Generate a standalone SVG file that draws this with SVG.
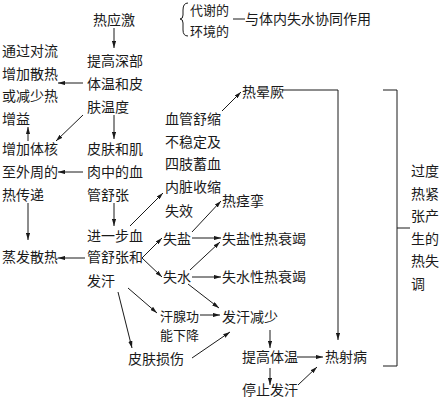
<svg xmlns="http://www.w3.org/2000/svg" width="439" height="400" viewBox="0 0 439 400">
<defs>
<marker id="ah" viewBox="0 0 10 6" refX="10" refY="3" markerWidth="7" markerHeight="4.2" markerUnits="userSpaceOnUse" orient="auto">
<path d="M0,0 L10,3 L0,6 z" fill="#1a1a1a"/>
</marker>
<style>
text{font-family:"Noto Sans CJK SC","Noto Sans CJK JP",sans-serif;font-size:14px;fill:#1a1a1a}
.s{font-size:13px}
.c line,.c path,.c polyline{stroke:#1a1a1a;stroke-width:1;fill:none}
.a{marker-end:url(#ah)}
</style>
</defs>
<rect width="439" height="400" fill="#fff"/>
<g class="c" id="connectors">
<line class="a" x1="114" y1="28" x2="114" y2="48"/>
<line class="a" x1="83" y1="83" x2="58" y2="83"/>
<line class="a" x1="83" y1="115" x2="56" y2="141"/>
<line class="a" x1="114" y1="115" x2="114" y2="139"/>
<line class="a" x1="28" y1="141" x2="28" y2="127"/>
<line class="a" x1="83" y1="172" x2="58" y2="172"/>
<line class="a" x1="28" y1="203" x2="28" y2="240"/>
<line class="a" x1="114" y1="203" x2="114" y2="226"/>
<line class="a" x1="85" y1="258" x2="58" y2="258"/>
<line class="a" x1="130" y1="226" x2="163" y2="193"/>
<line class="a" x1="222" y1="111" x2="241" y2="92"/>
<line class="a" x1="142" y1="258" x2="162" y2="238"/>
<line class="a" x1="142" y1="258" x2="162" y2="277"/>
<line class="a" x1="192" y1="232" x2="221" y2="201"/>
<line class="a" x1="192" y1="238" x2="221" y2="238"/>
<line class="a" x1="190" y1="270" x2="220" y2="242"/>
<line class="a" x1="192" y1="277" x2="221" y2="277"/>
<line class="a" x1="188" y1="284" x2="219" y2="308"/>
<line class="a" x1="128" y1="288" x2="157" y2="313"/>
<line class="a" x1="118" y1="292" x2="132" y2="348"/>
<line class="a" x1="200" y1="315" x2="220" y2="315"/>
<line class="a" x1="192" y1="358" x2="230" y2="332"/>
<line class="a" x1="270" y1="330" x2="270" y2="348"/>
<line class="a" x1="297" y1="357" x2="323" y2="357"/>
<line class="a" x1="270" y1="368" x2="270" y2="385"/>
<line class="a" x1="298" y1="385" x2="317" y2="367"/>
<polyline class="a" points="282,90 338,90 338,340"/>
<polyline points="383,90 397,90 397,366 383,366"/>
<line x1="397" y1="228" x2="410" y2="228"/>
<path d="M188,3 Q183,3 183,10 L183,15 Q183,19 180,19 Q183,19 183,23 L183,30 Q183,36 188,36"/>
<line x1="233" y1="19" x2="245" y2="19"/>
</g>
<g id="n-heat-stress"><text x="93" y="25">热应激</text></g>
<g id="n-metabolic"><text class="s"><tspan x="190" y="15.2">代谢的</tspan><tspan x="190" y="36">环境的</tspan></text></g>
<g id="n-synergy"><text x="245" y="24">与体内失水协同作用</text></g>
<g id="n-raise-temp"><text><tspan x="87" y="66">提高深部</tspan><tspan x="87" y="89">体温和皮</tspan><tspan x="87" y="112">肤温度</tspan></text></g>
<g id="n-convection"><text><tspan x="2" y="56">通过对流</tspan><tspan x="2" y="78.5">增加散热</tspan><tspan x="2" y="101">或减少热</tspan><tspan x="2" y="124">增益</tspan></text></g>
<g id="n-core-transfer"><text><tspan x="2" y="154">增加体核</tspan><tspan x="2" y="177">至外周的</tspan><tspan x="2" y="200">热传递</tspan></text></g>
<g id="n-evap"><text x="2" y="262">蒸发散热</text></g>
<g id="n-vasodil"><text><tspan x="87" y="154">皮肤和肌</tspan><tspan x="87" y="177">肉中的血</tspan><tspan x="87" y="200">管舒张</tspan></text></g>
<g id="n-further"><text><tspan x="87" y="241">进一步血</tspan><tspan x="87" y="262">管舒张和</tspan><tspan x="87" y="286">发汗</tspan></text></g>
<g id="n-unstable"><text><tspan x="165" y="124">血管舒缩</tspan><tspan x="165" y="147">不稳定及</tspan><tspan x="165" y="169">四肢蓄血</tspan><tspan x="165" y="192">内脏收缩</tspan><tspan x="165" y="216">失效</tspan></text></g>
<g id="n-syncope"><text x="242" y="97">热晕厥</text></g>
<g id="n-salt"><text x="163" y="244">失盐</text></g>
<g id="n-water"><text x="163" y="282">失水</text></g>
<g id="n-cramp"><text x="222" y="206">热痉挛</text></g>
<g id="n-salt-exh"><text x="222" y="244">失盐性热衰竭</text></g>
<g id="n-water-exh"><text x="222" y="282">失水性热衰竭</text></g>
<g id="n-sweat-less"><text x="222" y="322">发汗减少</text></g>
<g id="n-gland"><text class="s"><tspan x="160" y="321">汗腺功</tspan><tspan x="160" y="340">能下降</tspan></text></g>
<g id="n-skin"><text x="128" y="364">皮肤损伤</text></g>
<g id="n-raise-body"><text x="242" y="362">提高体温</text></g>
<g id="n-stroke"><text x="325" y="362">热射病</text></g>
<g id="n-stop"><text x="242" y="395">停止发汗</text></g>
<g id="n-excess"><text><tspan x="411" y="176">过度</tspan><tspan x="411" y="199">热紧</tspan><tspan x="411" y="221">张产</tspan><tspan x="411" y="244">生的</tspan><tspan x="411" y="266">热失</tspan><tspan x="411" y="289">调</tspan></text></g>
</svg>
